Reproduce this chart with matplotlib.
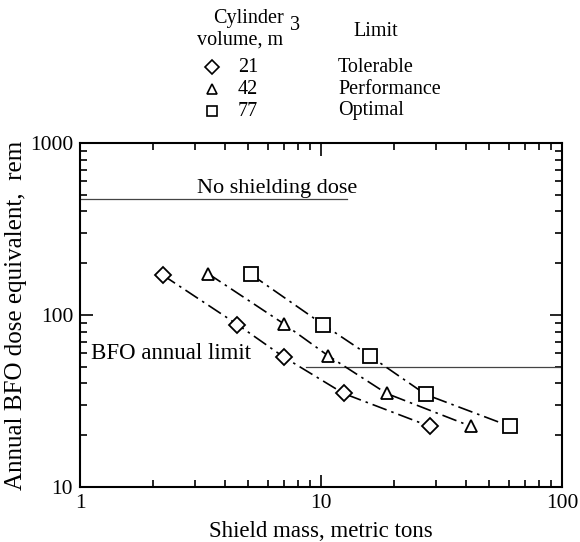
import matplotlib
matplotlib.use('Agg')
import matplotlib.pyplot as plt
from matplotlib.ticker import LogLocator, NullFormatter, FixedLocator, FixedFormatter

plt.rcParams['font.family'] = ['Liberation Serif', 'DejaVu Serif']

# shield mass (t) vs annual dose (rem) for each cylinder volume
mass_21 = [2.2, 4.5, 7.0, 12.4, 28.3]
dose_21 = [171, 88, 57, 35, 22.5]
mass_42 = [3.4, 7.0, 10.7, 18.7, 42.0]
dose_42 = [174, 89, 58, 35, 22.5]
mass_77 = [5.1, 10.2, 15.9, 27.2, 61.0]
dose_77 = [173, 88, 58, 34.5, 22.5]

volumes = ['21', '42', '77']
limits = ['Tolerable', 'Performance', 'Optimal']
markers = ['D', '^', 's']

no_shield_dose = 470
no_shield_span = [1.0, 12.8]
bfo_limit = 50
bfo_span = [8.7, 100.0]

W, H = 580, 542
fig = plt.figure(figsize=(W / 100, H / 100), dpi=100)
ax = fig.add_axes([80 / W, 1 - 487 / H, 482 / W, 344 / H])
ax.set_xscale('log')
ax.set_yscale('log')
ax.set_xlim(1, 100)
ax.set_ylim(10, 1000)

ax.plot(no_shield_span, [no_shield_dose] * 2, color='#444444', lw=0.9)
ax.plot(bfo_span, [bfo_limit] * 2, color='#444444', lw=0.9)
ax.text(3.05, 478, 'No shielding dose', fontsize=16, ha='left', va='bottom')
ax.text(1.11, 52, 'BFO annual limit', fontsize=16.5, ha='left', va='bottom')

series = [(mass_21, dose_21), (mass_42, dose_42), (mass_77, dose_77)]
msizes = [8.5, 9, 9.5]
for (xs, ys), m, ms in zip(series, markers, msizes):
    ax.plot(xs, ys, color='black', lw=1.2, linestyle=(0, (9, 3, 1.5, 3)),
            marker=m, markersize=ms, markerfacecolor='white',
            markeredgecolor='black', markeredgewidth=1.3)

ax.xaxis.set_major_locator(FixedLocator([1, 10, 100]))
ax.xaxis.set_major_formatter(FixedFormatter(['1', '10', '100']))
ax.yaxis.set_major_locator(FixedLocator([10, 100, 1000]))
ax.yaxis.set_major_formatter(FixedFormatter(['10', '100', '1000']))
for axis in (ax.xaxis, ax.yaxis):
    axis.set_minor_locator(LogLocator(base=10, subs=range(2, 10)))
    axis.set_minor_formatter(NullFormatter())
ax.tick_params(which='both', direction='in', top=True, right=True,
               labelsize=15.5, width=1.2)
ax.tick_params(which='major', length=9, pad=5)
ax.tick_params(which='minor', length=5)
for sp in ax.spines.values():
    sp.set_linewidth(1.5)

ax.set_xlabel('Shield mass, metric tons', fontsize=16.5, labelpad=6)
ax.set_ylabel('Annual BFO dose equivalent,  rem', fontsize=18, labelpad=2)

# key above the plot, placed in pixel units
def px(x, y):
    return x / W, 1 - y / H

fig.text(*px(248, 18), 'Cylinder', fontsize=14.5, ha='center', va='center')
fig.text(*px(240, 40), 'volume, m', fontsize=14.5, ha='center', va='center')
fig.text(*px(290, 26), '3', fontsize=14.5, ha='left', va='center')
fig.text(*px(376, 32), 'Limit', fontsize=14.5, ha='center', va='center')
row_y = [67, 89, 111]
for vol, lim, m, y in zip(volumes, limits, markers, row_y):
    fig.lines.append(plt.Line2D([212 / W], [1 - y / H], transform=fig.transFigure,
                                marker=m, markersize=7, markerfacecolor='white',
                                markeredgecolor='black', markeredgewidth=1.2,
                                linestyle='none'))
    fig.text(*px(248, y), vol, fontsize=14.5, ha='center', va='center')
    fig.text(*px(338, y), lim, fontsize=14.5, ha='left', va='center')

fig.savefig('out.png', dpi=100)
